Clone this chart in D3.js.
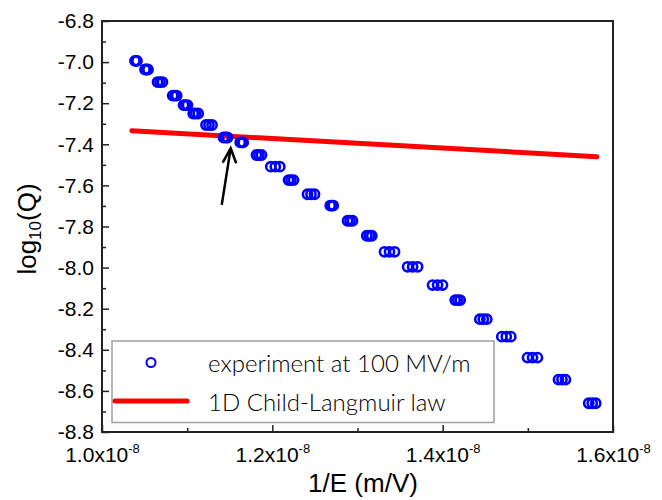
<!DOCTYPE html>
<html>
<head>
<meta charset="utf-8">
<script src="https://cdn.jsdelivr.net/npm/d3@7"></script>
<style>
  body { margin: 0; background: #fff; }
  svg { display: block; }
</style>
</head>
<body>
<div id="chart"></div>
<script>
// 1/E in units of 1e-8 m/V, three repeated measurements per field value
const expX = [
    1.0387, 1.0399, 1.0411,
    1.0505, 1.0523, 1.0540,
    1.0652, 1.0681, 1.0710,
    1.0830, 1.0854, 1.0877,
    1.0957, 1.0980, 1.1004,
    1.1071, 1.1100, 1.1130,
    1.1221, 1.1256, 1.1292,
    1.1427, 1.1450, 1.1474,
    1.1623, 1.1640, 1.1658,
    1.1814, 1.1843, 1.1873,
    1.1982, 1.2035, 1.2088,
    1.2190, 1.2219, 1.2249,
    1.2413, 1.2454, 1.2495,
    1.2680, 1.2697, 1.2715,
    1.2883, 1.2912, 1.2941,
    1.3109, 1.3139, 1.3168,
    1.3317, 1.3376, 1.3435,
    1.3588, 1.3647, 1.3706,
    1.3881, 1.3940, 1.3998,
    1.4147, 1.4177, 1.4206,
    1.4436, 1.4477, 1.4518,
    1.4694, 1.4747, 1.4800,
    1.4996, 1.5055, 1.5113,
    1.5360, 1.5401, 1.5442,
    1.5715, 1.5756, 1.5797
];
const expY = [
    -6.994, -6.994, -6.994,
    -7.036, -7.036, -7.036,
    -7.097, -7.097, -7.097,
    -7.163, -7.163, -7.163,
    -7.209, -7.209, -7.209,
    -7.250, -7.250, -7.250,
    -7.306, -7.306, -7.306,
    -7.367, -7.367, -7.367,
    -7.391, -7.391, -7.391,
    -7.452, -7.452, -7.452,
    -7.509, -7.509, -7.509,
    -7.574, -7.574, -7.574,
    -7.643, -7.643, -7.643,
    -7.698, -7.698, -7.698,
    -7.772, -7.772, -7.772,
    -7.845, -7.845, -7.845,
    -7.923, -7.923, -7.923,
    -7.996, -7.996, -7.996,
    -8.085, -8.085, -8.085,
    -8.158, -8.158, -8.158,
    -8.251, -8.251, -8.251,
    -8.336, -8.336, -8.336,
    -8.438, -8.438, -8.438,
    -8.545, -8.545, -8.545,
    -8.660, -8.660, -8.660
];

// 1D Child-Langmuir law
const clX = [1.035, 1.2, 1.4, 1.581];
const clY = [-7.334, -7.372, -7.418, -7.461];

// arrow annotation (tail -> tip) in data units
const arrowX = [1.1406, 1.1511];
const arrowY = [-7.695, -7.419];

const xTicks = [1.0, 1.2, 1.4, 1.6];
const xMinor = [1.1, 1.3, 1.5];
const yTicks = [-8.8, -8.6, -8.4, -8.2, -8.0, -7.8, -7.6, -7.4, -7.2, -7.0, -6.8];
const yMinor = [-8.7, -8.5, -8.3, -8.1, -7.9, -7.7, -7.5, -7.3, -7.1, -6.9];

const legendLabels = ['experiment at 100 MV/m', '1D Child-Langmuir law'];

const width = 662;
const height = 500;
const margin = {left: 102, right: 613, top: 21, bottom: 432};

const svg = d3.select('#chart')
    .append('svg')
    .attr('width', width)
    .attr('height', height);

svg.append('rect').attr('width', width).attr('height', height).attr('fill', '#fff');

const x = d3.scaleLinear().domain([1.0, 1.6]).range([margin.left, margin.right]);
const y = d3.scaleLinear().domain([-8.8, -6.8]).range([margin.bottom, margin.top]);

const tickFont = 'Liberation Sans, Arial, sans-serif';

// minor ticks
svg.append('g')
    .attr('transform', `translate(0,${margin.bottom})`)
    .call(d3.axisBottom(x).tickValues(xMinor).tickSize(-4).tickFormat(''))
    .call(g => g.select('.domain').remove())
    .call(g => g.selectAll('line').attr('stroke', '#222').attr('stroke-width', 1.5));
svg.append('g')
    .attr('transform', `translate(${margin.left},0)`)
    .call(d3.axisLeft(y).tickValues(yMinor).tickSize(-4).tickFormat(''))
    .call(g => g.select('.domain').remove())
    .call(g => g.selectAll('line').attr('stroke', '#222').attr('stroke-width', 1.5));

// major x axis
const xAxis = svg.append('g')
    .attr('transform', `translate(0,${margin.bottom})`)
    .call(d3.axisBottom(x).tickValues(xTicks).tickSize(-7).tickSizeOuter(0).tickPadding(15)
        .tickFormat(d => d.toFixed(1) + 'x10'));
xAxis.select('.domain').remove();
xAxis.selectAll('line').attr('stroke', '#222').attr('stroke-width', 1.5);
xAxis.selectAll('text')
    .attr('font-family', tickFont)
    .attr('font-size', 21)
    .attr('fill', '#000')
    .append('tspan')
    .attr('font-size', 13)
    .attr('dy', -9)
    .text('-8');

// major y axis
const yAxis = svg.append('g')
    .attr('transform', `translate(${margin.left},0)`)
    .call(d3.axisLeft(y).tickValues(yTicks).tickSize(-7).tickSizeOuter(0).tickPadding(8)
        .tickFormat(d => d.toFixed(1)));
yAxis.select('.domain').remove();
yAxis.selectAll('line').attr('stroke', '#222').attr('stroke-width', 1.5);
yAxis.selectAll('text')
    .attr('font-family', tickFont)
    .attr('font-size', 21)
    .attr('fill', '#000');

// frame
svg.append('rect')
    .attr('x', margin.left).attr('y', margin.top)
    .attr('width', margin.right - margin.left).attr('height', margin.bottom - margin.top)
    .attr('fill', 'none')
    .attr('stroke', '#222')
    .attr('stroke-width', 2);

// Child-Langmuir line
const clData = clX.map((v, i) => ({x: v, y: clY[i]}));
svg.append('path')
    .datum(clData)
    .attr('d', d3.line().x(d => x(d.x)).y(d => y(d.y)))
    .attr('fill', 'none')
    .attr('stroke', '#ff0000')
    .attr('stroke-width', 5)
    .attr('stroke-linecap', 'round');

// experiment points
const expData = expX.map((v, i) => ({x: v, y: expY[i]}));
svg.append('g')
    .selectAll('circle')
    .data(expData)
    .enter()
    .append('circle')
    .attr('cx', d => x(d.x))
    .attr('cy', d => y(d.y))
    .attr('r', 4.6)
    .attr('fill', 'none')
    .attr('stroke', '#0000ff')
    .attr('stroke-width', 2.6);

// arrow
const ax0 = x(arrowX[0]), ay0 = y(arrowY[0]);
const ax1 = x(arrowX[1]), ay1 = y(arrowY[1]);
svg.append('path')
    .attr('d', `M${ax0},${ay0}L${ax1},${ay1}M${ax1 - 8},${ay1 + 14.5}L${ax1},${ay1}L${ax1 + 5.5},${ay1 + 15}`)
    .attr('fill', 'none')
    .attr('stroke', '#000')
    .attr('stroke-width', 2.5);

// legend
const legend = svg.append('g');
legend.append('rect')
    .attr('x', 112).attr('y', 341)
    .attr('width', 382).attr('height', 81.5)
    .attr('fill', '#fff')
    .attr('stroke', '#a0a0a0')
    .attr('stroke-width', 1.5);
legend.append('circle')
    .attr('cx', 151).attr('cy', 362.5).attr('r', 4.5)
    .attr('fill', 'none').attr('stroke', '#0000ff').attr('stroke-width', 2);
legend.append('line')
    .attr('x1', 115).attr('x2', 187).attr('y1', 401).attr('y2', 401)
    .attr('stroke', '#ff0000').attr('stroke-width', 5).attr('stroke-linecap', 'round');
legend.selectAll('text.lg')
    .data(legendLabels)
    .enter()
    .append('text')
    .attr('class', 'lg')
    .attr('x', 208)
    .attr('y', (d, i) => 371.5 + i * 39)
    .attr('font-family', 'Lato, Open Sans, sans-serif')
    .attr('font-weight', 300)
    .attr('font-size', 24)
    .attr('fill', '#000')
    .text(d => d);

// axis titles
svg.append('text')
    .attr('x', 363).attr('y', 492)
    .attr('text-anchor', 'middle')
    .attr('font-family', tickFont)
    .attr('font-size', 26)
    .text('1/E (m/V)');

const yTitle = svg.append('text')
    .attr('transform', 'translate(36,229) rotate(-90)')
    .attr('text-anchor', 'middle')
    .attr('font-family', tickFont)
    .attr('font-size', 26);
yTitle.append('tspan').text('log');
yTitle.append('tspan').attr('font-size', 17).attr('dy', 5).text('10');
yTitle.append('tspan').attr('dy', -5).text('(Q)');
</script>
</body>
</html>
